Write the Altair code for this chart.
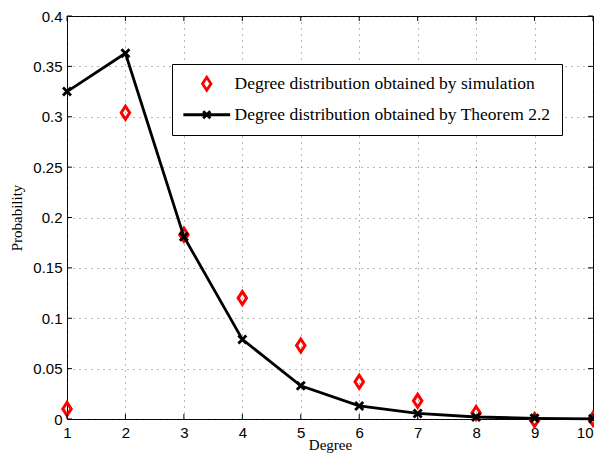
import altair as alt
import pandas as pd

# ---- data ----
degrees = [1, 2, 3, 4, 5, 6, 7, 8, 9, 10]
sim_prob = [0.010, 0.304, 0.183, 0.120, 0.073, 0.037, 0.018, 0.006, -0.001, 0.0]
theo_prob = [0.325, 0.363, 0.181, 0.079, 0.033, 0.013, 0.0055, 0.002, 0.0007, 0.0002]
series_names = [
    "Degree distribution obtained by simulation",
    "Degree distribution obtained by Theorem 2.2",
]
x_ticks = [1, 2, 3, 4, 5, 6, 7, 8, 9, 10]
y_ticks = [0, 0.05, 0.1, 0.15, 0.2, 0.25, 0.3, 0.35, 0.4]

W, H = 526, 403

sim_df = pd.DataFrame({"degree": degrees, "prob": sim_prob})
theo_df = pd.DataFrame({"degree": degrees, "prob": theo_prob})
leg_df = pd.DataFrame({"series": series_names, "degree": [1, 1], "prob": [-1, -1]})
xt_df = pd.DataFrame({"t": x_ticks})
yt_df = pd.DataFrame({"t": y_ticks})

diamond = "M0,-1L0.65,0L0,1L-0.65,0Z"
cross = "M-1,-1L1,1M-1,1L1,-1"
leg_line = "M-3.6,0L3.6,0M-0.55,-0.55L0.55,0.55M-0.55,0.55L0.55,-0.55"

xscale = alt.Scale(domain=[1, 10], nice=False, zero=False)
yscale = alt.Scale(domain=[0, 0.4], nice=False)

xenc = alt.X("degree:Q", scale=xscale,
             axis=alt.Axis(values=x_ticks, title="Degree", format="d",
                           labelPadding=6, labelFlush=False,
                           labelAlign={"condition": {"test": "datum.value == 10", "value": "right"},
                                       "value": "center"},
                           titleY=30, titleBaseline="alphabetic"))
yenc = alt.Y("prob:Q", scale=yscale,
             axis=alt.Axis(values=y_ticks, title="Probability", format="~g",
                           labelPadding=5, titlePadding=8))

sim = alt.Chart(sim_df).mark_point(
    shape=diamond, filled=False, size=169, stroke="red", strokeWidth=3, opacity=1
).encode(x=xenc, y=yenc)

line = alt.Chart(theo_df).mark_line(color="black", strokeWidth=2.8).encode(x=xenc, y=yenc)

crosses = alt.Chart(theo_df).mark_point(
    shape=cross, filled=False, size=64, stroke="black", strokeWidth=2.8, opacity=1
).encode(x=xenc, y=yenc)

leg = alt.Legend(orient="none", legendX=105, legendY=48, title=None,
                 strokeColor="black", fillColor="white", padding=11,
                 labelFont="Liberation Serif", labelFontSize=17.5, labelColor="black",
                 symbolSize=169, symbolStrokeWidth=2.8, symbolOffset=15,
                 labelOffset=19, rowPadding=9, labelLimit=1000)

legend_layer = alt.Chart(leg_df).mark_point(
    filled=False, size=169, strokeWidth=2.8, clip=True, opacity=1
).encode(
    x=alt.X("degree:Q", scale=xscale),
    y=alt.Y("prob:Q", scale=yscale),
    shape=alt.Shape("series:N", scale=alt.Scale(domain=series_names, range=[diamond, leg_line]),
                    legend=leg, sort=series_names),
    stroke=alt.Stroke("series:N", scale=alt.Scale(domain=series_names, range=["red", "black"]),
                      legend=leg, sort=series_names),
)

tick_len = 5
bot = alt.Chart(xt_df).mark_rule(color="black", strokeWidth=1).encode(
    x=alt.X("t:Q", scale=xscale), y=alt.value(H), y2=alt.value(H - tick_len))
top = alt.Chart(xt_df).mark_rule(color="black", strokeWidth=1).encode(
    x=alt.X("t:Q", scale=xscale), y=alt.value(0), y2=alt.value(tick_len))
left = alt.Chart(yt_df).mark_rule(color="black", strokeWidth=1).encode(
    y=alt.Y("t:Q", scale=yscale), x=alt.value(0), x2=alt.value(tick_len))
right = alt.Chart(yt_df).mark_rule(color="black", strokeWidth=1).encode(
    y=alt.Y("t:Q", scale=yscale), x=alt.value(W), x2=alt.value(W - tick_len))

chart = alt.layer(sim, line, crosses, legend_layer, bot, top, left, right).properties(
    width=W, height=H,
    autosize=alt.AutoSizeParams(type="none"),
    padding={"left": 59, "top": 8, "right": 1, "bottom": 34},
).configure_view(stroke="black", strokeWidth=1).configure_axis(
    labelFont="Liberation Sans", labelFontSize=15, labelColor="black",
    titleFont="Liberation Serif", titleFontSize=15, titleFontWeight="normal", titleColor="black",
    grid=True, gridColor="#333", gridDash=[1, 5], gridOpacity=0.7, gridWidth=1,
    domain=False, ticks=False,
).configure_point(opacity=1)

chart.save("out.html", embed_options={"renderer": "svg", "actions": False})
